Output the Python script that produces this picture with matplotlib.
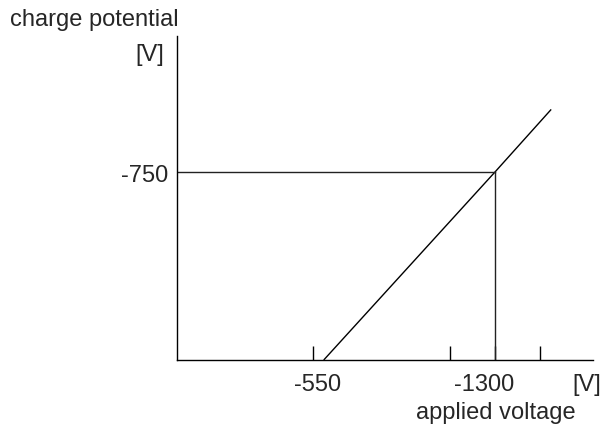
"""Charge potential vs applied voltage (schematic patent-style figure)."""
import matplotlib
matplotlib.use("Agg")
import matplotlib.pyplot as plt
from matplotlib import transforms

# magnitudes in volts, axes start at 0
applied = [600, 1300, 1530]
charge = [0, 750, 1000]
x_ticks = [555, 1116, 1300, 1485]
x_labels = ["-550", "", "-1300", ""]
y_ticks = [750]
y_labels = ["-750"]
op_x, op_y = 1300, 750          # operating point marked by guide lines

plt.rcParams["font.family"] = ["Liberation Sans", "DejaVu Sans"]
W, H = 611, 431
fig = plt.figure(figsize=(W / 100, H / 100), dpi=100)
ax = fig.add_axes([177 / W, (H - 361) / H, (593 - 177) / W, (361 - 37) / H])
ax.set_xlim(0, 1701)
ax.set_ylim(0, 1293)

for s in ("top", "right"):
    ax.spines[s].set_visible(False)
for s in ("left", "bottom"):
    ax.spines[s].set_linewidth(1.0)

txt = "#262626"
ax.plot(applied, charge, color="k", lw=1.0, solid_capstyle="butt")
ax.plot([0, op_x], [op_y, op_y], color="#222222", lw=1.0)
ax.plot([op_x, op_x], [0, op_y], color="#222222", lw=1.0)

ax.set_xticks(x_ticks, labels=[""] * len(x_ticks))
ax.tick_params(axis="x", direction="in", length=10, width=1.0)
ax.set_yticks(y_ticks, labels=y_labels)
ax.tick_params(axis="y", length=0, pad=6.5, labelsize=17, labelcolor=txt)

# x labels under the ticks (the -1300 label sits a little left of its tick)
shifts = {"-550": 5, "-1300": -11}
base = transforms.blended_transform_factory(ax.transData, ax.transAxes)
for xv, lab in zip(x_ticks, x_labels):
    if not lab:
        continue
    off = transforms.ScaledTranslation(shifts[lab] / 100, -24 / 100, fig.dpi_scale_trans)
    ax.text(xv, 0, lab, transform=base + off, ha="center", va="center",
            fontsize=17, color=txt)

fig.text(10 / W, 1 - 20 / H, "charge potential", ha="left", va="center",
         fontsize=17, color=txt)
fig.text(164 / W, 1 - 55 / H, "[V]", ha="right", va="center", fontsize=17, color=txt)
fig.text(587 / W, 1 - 385 / H, "[V]", ha="center", va="center", fontsize=17, color=txt)
fig.text(496 / W, 1 - 413 / H, "applied voltage", ha="center", va="center",
         fontsize=17, color=txt)

fig.savefig("out.png", dpi=100)
